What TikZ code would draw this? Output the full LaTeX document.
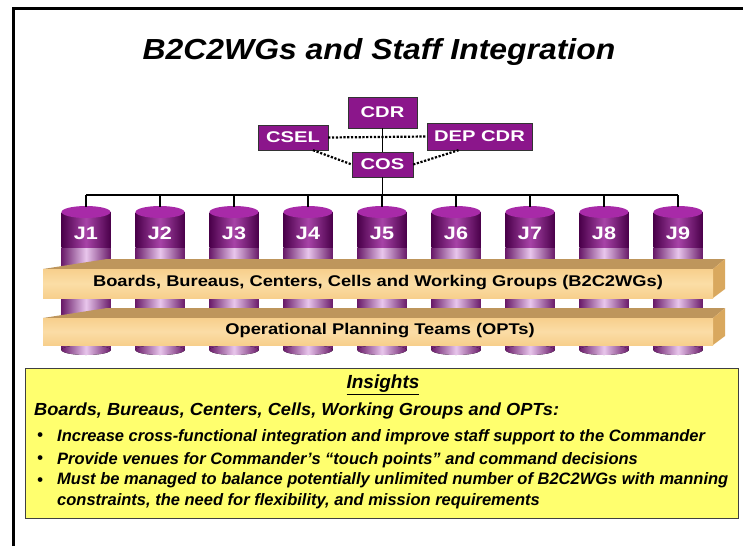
\documentclass[tikz,border=0pt]{standalone}
\usepackage{fontspec}
\setmainfont{Liberation Sans}
\newfontfamily\titlefont[FakeStretch=1.1]{Liberation Sans}
\newfontfamily\orgfont[FakeStretch=1.3]{Liberation Sans}
\newfontfamily\jfont[FakeStretch=1.2]{Liberation Sans}
\newfontfamily\boardfont[FakeStretch=1.18]{Liberation Sans}
\newfontfamily\insfont[FakeStretch=1.0]{Liberation Sans}
\newfontfamily\leadfont[FakeStretch=1.04]{Liberation Sans}
\usetikzlibrary{positioning}

\definecolor{orgpurple}{HTML}{8B168B}
\definecolor{cyltop}{HTML}{A82AA8}
\definecolor{cyldark}{HTML}{4A004A}
\definecolor{cylmid}{HTML}{A844A8}
\definecolor{banddark}{HTML}{6A1C6A}
\definecolor{bandlight}{HTML}{E8C6EC}
\definecolor{boardfront}{HTML}{F7CF8C}
\definecolor{boardlight}{HTML}{FBDDA6}
\definecolor{boardtop}{HTML}{BE965C}
\definecolor{boardside}{HTML}{D9A85E}
\definecolor{insyellow}{HTML}{FFFF6E}

\tikzset{
  orgbox/.style={draw=black!80, fill=orgpurple, text=white, inner sep=0pt,
    font=\orgfont\fontsize{15.5}{17}\selectfont\bfseries},
  jlabel/.style={text=white, font=\jfont\fontsize{18}{20}\selectfont\bfseries},
  boardtext/.style={font=\boardfont\fontsize{15.5}{17}\selectfont\bfseries},
  instext/.style={anchor=west, inner sep=0pt,
    font=\insfont\fontsize{16.5}{21}\selectfont\bfseries\itshape},
  dotline/.style={line width=2.2pt, dash pattern=on 2.2pt off 1.6pt},
}

\begin{document}
\begin{tikzpicture}[x=1pt,y=-1pt]
\useasboundingbox (0,0) rectangle (743,546);

% frame
\draw[line width=3pt] (13,546) -- (13,8) -- (743,8);

% title
\node[font=\titlefont\fontsize{29}{32}\selectfont\bfseries\itshape] (title) at (379,52)
  {B2C2WGs and Staff Integration};

% command group
\node[orgbox, minimum width=69, minimum height=31] (CDR) at (382.5,112.5) {CDR};
\node[orgbox, minimum width=70, minimum height=25] (CSEL) at (293,137.5) {CSEL};
\node[orgbox, minimum width=105, minimum height=27] (DEP) at (479.5,136.5) {DEP CDR};
\node[orgbox, minimum width=61, minimum height=25] (COS) at (382.5,164.5) {COS};

\draw[line width=1.2pt] (CDR) -- (COS);
\draw[dotline] (CSEL.east) -- (DEP.west);
\draw[dotline] ([xshift=20]CSEL.south) -- (COS.west);
\draw[dotline] (COS.east) -- ([xshift=-21]DEP.south);

% staff directorates
\foreach \i in {1,...,9} {
  \pgfmathsetmacro\cx{86+(\i-1)*74}
  \coordinate (top\i) at (\cx,207);
  \fill[left color=banddark, right color=banddark, middle color=bandlight]
    (\cx-24.5,247) rectangle (\cx+24.5,350);
  \fill[left color=banddark, right color=banddark, middle color=bandlight]
    (\cx,350) ellipse [x radius=24.5, y radius=5];
  \fill[left color=cyldark, right color=cyldark, middle color=cylmid]
    (\cx-24.5,212) rectangle (\cx+24.5,247);
  \fill[cyltop] (\cx,212) ellipse [x radius=24.5, y radius=6];
  \node[jlabel] (J\i) at (\cx,233) {J\i};
}

\coordinate (bus) at (382.5,195);
\draw[line width=1.2pt] (COS) -- (bus);
\draw[line width=1.2pt] (top1 |- bus) -- (top9 |- bus);
\foreach \i in {1,...,9}
  \draw[line width=1.2pt] (top\i |- bus) -- (top\i);

% boards
\foreach \yt/\yf/\yb in {259/269/298, 308/318/345} {
  \fill[boardtop] (43,\yf) -- (107,\yt) -- (725,\yt) -- (713,\yf) -- cycle;
  \fill[boardside] (713,\yf) -- (725,\yt) -- (725,\yb-9) -- (713,\yb) -- cycle;
  \fill[top color=boardfront, bottom color=boardfront, middle color=boardlight]
    (43,\yf) rectangle (713,\yb);
}
\node[boardtext] (b2c2) at (378,283)
  {Boards, Bureaus, Centers, Cells and Working Groups (B2C2WGs)};
\node[boardtext] (opt) at (380,331) {Operational Planning Teams (OPTs)};

% insights
\node[draw=black!75, line width=1pt, fill=insyellow, minimum width=713,
  minimum height=150, inner sep=0pt] (insbox) at (382,443) {};
\node[font=\insfont\fontsize{19}{22}\selectfont\bfseries\itshape] (ins) at (383,385)
  {\underline{Insights}};
\node[instext, font=\leadfont\fontsize{17.5}{21}\selectfont\bfseries\itshape] (lead) at (34,411)
  {Boards, Bureaus, Centers, Cells, Working Groups and OPTs:};
\foreach \n/\y in {1/437, 2/460, 3/482}
  \node[instext] (dot\n) at (37,\y) {\textbullet};
\node[instext] (pt1) at (57,437)
  {Increase cross-functional integration and improve staff support to the Commander};
\node[instext] (pt2) at (57,460)
  {Provide venues for Commander’s “touch points” and command decisions};
\node[instext, anchor=north west, align=left] (pt3) at (57,472)
  {Must be managed to balance potentially unlimited number of B2C2WGs with manning\\
   constraints, the need for flexibility, and mission requirements};
\end{tikzpicture}
\end{document}
